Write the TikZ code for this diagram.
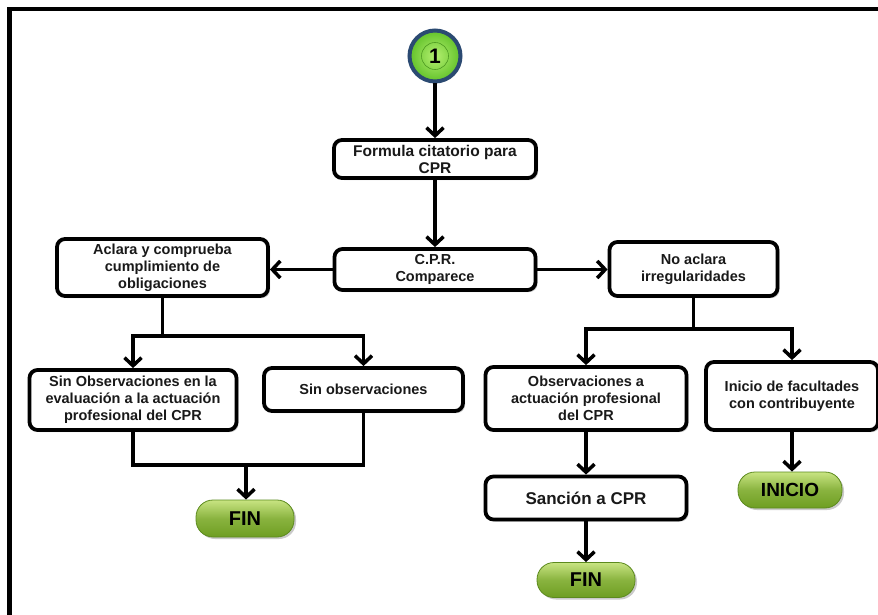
\documentclass[tikz,border=0pt]{standalone}
\usepackage{fontspec}
\setmainfont{Liberation Sans}
\usetikzlibrary{arrows.meta,shadows,calc}

\definecolor{ringblue}{HTML}{2B4A72}
\definecolor{greenlight}{HTML}{B4F070}
\definecolor{greendark}{HTML}{62C22A}
\definecolor{pilltop}{HTML}{C8E482}
\definecolor{pillbot}{HTML}{6E9E22}
\definecolor{pillline}{HTML}{5C8A1E}

\tikzset{
  stepbox/.style={draw=black, line width=3.8pt, rounded corners=8pt, fill=white,
    align=center, inner sep=0pt, text=black!90,
    font=\bfseries\fontsize{14.5}{17}\selectfont,
    drop shadow={shadow xshift=2pt, shadow yshift=-2pt, opacity=0.35, fill=black!60}},
  pill/.style={draw=pillline, line width=0.8pt, rounded corners=17pt,
    top color=pilltop, bottom color=pillbot, middle color=pillbot!70!pilltop,
    inner sep=0pt, text=black, font=\bfseries\fontsize{20}{22}\selectfont,
    drop shadow={shadow xshift=2pt, shadow yshift=-2pt, opacity=0.35, fill=black!60}},
  conn/.style={line width=3.5pt, black},
  arr/.style={conn, -{Straight Barb[length=8pt,width=17pt]}},
}

\begin{document}
\begin{tikzpicture}[x=1pt,y=-1pt]
\useasboundingbox (0,0) rectangle (878,615);

% outer frame (open to the right and bottom)
\draw[line width=4.5pt, line cap=rect] (9.5,620) -- (9.5,9) -- (885,9);

% start connector
\node[circle, draw=ringblue, line width=4pt, minimum size=51pt, inner sep=0pt,
      inner color=greenlight, outer color=greendark,
      drop shadow={shadow xshift=1.5pt, shadow yshift=-1.5pt, opacity=0.3}] (c1) at (435,56) {};
\node[circle, draw=greendark!80!black, line width=0.6pt, minimum size=27pt, inner sep=0pt,
      font=\bfseries\fontsize{21}{22}\selectfont] (c1in) at (c1) {1};

% process boxes
\node[stepbox, minimum width=202pt, minimum height=38pt, font=\bfseries\fontsize{15.5}{17}\selectfont]
  (f1) at (435,159) {Formula citatorio para\\CPR};
\node[stepbox, minimum width=201pt, minimum height=41pt] (cpr) at (435,269.5) {C.P.R.\\Comparece};
\node[stepbox, minimum width=211pt, minimum height=57pt] (acl) at (162.5,267.5)
  {Aclara y comprueba\\cumplimiento de\\obligaciones};
\node[stepbox, minimum width=168pt, minimum height=54pt] (noa) at (693.5,269)
  {No aclara\\irregularidades};
\node[stepbox, minimum width=207pt, minimum height=60pt] (sino1) at (133,400)
  {Sin Observaciones en la\\evaluación a la actuación\\profesional del CPR};
\node[stepbox, minimum width=199pt, minimum height=43pt] (sino2) at (363.5,389.5)
  {Sin observaciones};
\node[stepbox, minimum width=201pt, minimum height=63pt] (obs) at (586,398.5)
  {Observaciones a\\actuación profesional\\del CPR};
\node[stepbox, minimum width=172pt, minimum height=68pt] (ini) at (792,396)
  {Inicio de facultades\\con contribuyente};
\node[stepbox, minimum width=201pt, minimum height=43pt, font=\bfseries\fontsize{17}{19}\selectfont]
  (san) at (586,498) {Sanción a CPR};

% terminators
\node[pill, minimum width=98pt, minimum height=37pt] (fin1) at (245,518.5) {FIN};
\node[pill, minimum width=98pt, minimum height=35pt] (fin2) at (586,580) {FIN};
\node[pill, minimum width=104pt, minimum height=36pt, font=\bfseries\fontsize{19}{21}\selectfont]
  (inicio) at (790,490) {INICIO};

% junction points
\coordinate (j1) at (162.5,336);
\coordinate (j2) at (246,465);
\coordinate (j3) at (693.5,329);

% connectors
\draw[arr] (c1.south) -- (f1.north);
\draw[arr] (f1.south) -- (cpr.north);
\draw[arr] (cpr.west) -- (cpr.west -| acl.east);
\draw[arr] (cpr.east) -- (cpr.east -| noa.west);

\draw[conn] (acl.south) -- (j1);
\draw[arr] (j1) -| (sino1.north);
\draw[arr] (j1) -| (sino2.north);

\draw[conn] (sino1.south) |- (j2);
\draw[conn] (sino2.south) |- (j2);
\draw[arr] (j2) -- (j2 |- fin1.north);

\draw[conn] (noa.south) -- (j3);
\draw[arr] (j3) -| (obs.north);
\draw[arr] (j3) -| (ini.north);

\draw[arr] (obs.south) -- (san.north);
\draw[arr] (san.south) -- (san.south |- fin2.north);
\draw[arr] (ini.south) -- (ini.south |- inicio.north);
\end{tikzpicture}
\end{document}
